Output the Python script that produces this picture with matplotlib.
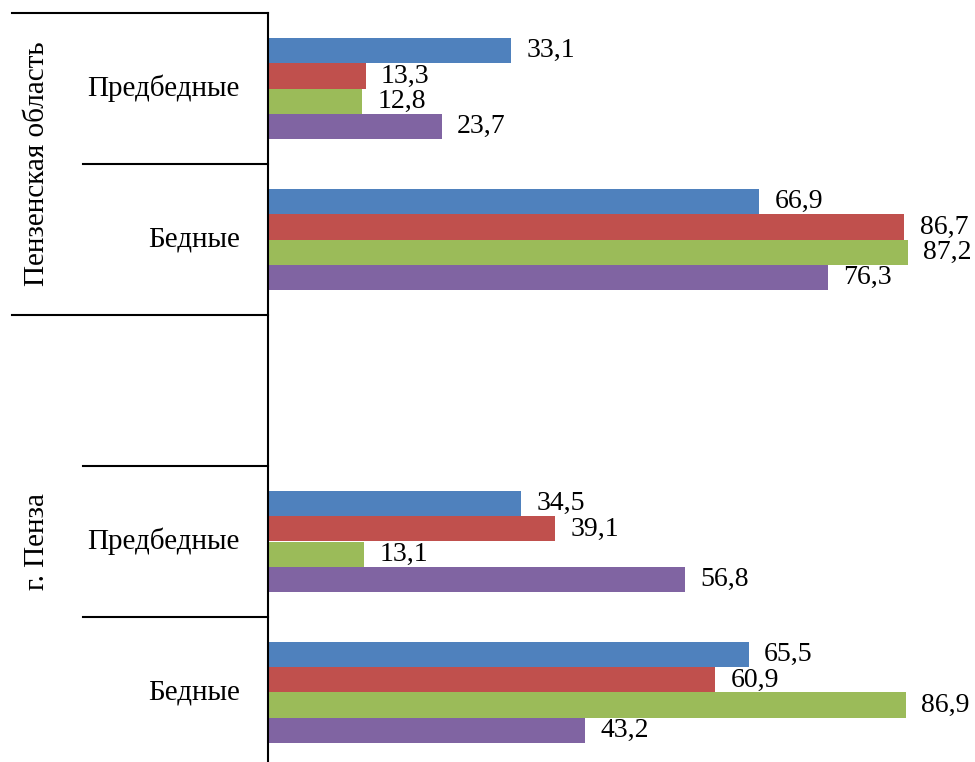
import matplotlib.pyplot as plt
import numpy as np
from matplotlib.transforms import blended_transform_factory

plt.rcParams['font.family'] = ['Liberation Serif', 'DejaVu Serif']

# categories top to bottom (empty slot separates the two groups)
categories = ['Предбедные', 'Бедные', '', 'Предбедные', 'Бедные']
groups = ['Пензенская область', 'г. Пенза']

# four series, one value per category (nan = empty slot)
series_1 = [33.1, 66.9, np.nan, 34.5, 65.5]
series_2 = [13.3, 86.7, np.nan, 39.1, 60.9]
series_3 = [12.8, 87.2, np.nan, 13.1, 86.9]
series_4 = [23.7, 76.3, np.nan, 56.8, 43.2]
all_series = [series_1, series_2, series_3, series_4]

colors = ['#4F81BD', '#C0504D', '#9BBB59', '#8064A2']

W, H = 975, 762
fig = plt.figure(figsize=(W / 100, H / 100), dpi=100)
# axes: value 0 at x=268px, top at y=13px, slots of ~151px
ax = fig.add_axes([268 / W, (H - 768) / H, (W - 268) / W, (768 - 13) / H])

ypos = np.arange(len(categories))
bar_h = 1 / 6
for i, (vals, color) in enumerate(zip(all_series, colors)):
    offs = ypos + (i - 1.5) * bar_h
    ax.barh(offs, vals, height=bar_h, color=color, linewidth=0)
    for y, v in zip(offs, vals):
        if np.isnan(v):
            continue
        ax.annotate(f"{v:.1f}".replace('.', ','), xy=(v, y), xytext=(11, 0),
                    textcoords='offset points', va='center', ha='left',
                    fontsize=20)

ax.set_xlim(0, (W - 268) / 7.34)
ax.set_ylim(len(categories) - 0.5, -0.5)

for s in ['top', 'right', 'bottom']:
    ax.spines[s].set_visible(False)
ax.spines['left'].set_linewidth(1.5)
ax.set_xticks([])
ax.set_yticks([])

# multi-level category axis drawn by hand
tr = blended_transform_factory(fig.transFigure, ax.transData)
group_edges = [-0.5, 1.5, 4.5]
inner_edges = [0.5, 2.5, 3.5]
for y in group_edges:
    ax.plot([12 / W, 268 / W], [y, y], color='black', lw=1.5,
            transform=tr, clip_on=False)
for y in inner_edges:
    ax.plot([83 / W, 268 / W], [y, y], color='black', lw=1.5,
            transform=tr, clip_on=False)

for y, name in zip(ypos, categories):
    if name:
        ax.text(240 / W, y, name, transform=tr, ha='right', va='center',
                fontsize=21)

ax.text(37 / W, 0.5, groups[0], transform=tr, rotation=90,
        ha='center', va='center', fontsize=21)
ax.text(37 / W, 3.0, groups[1], transform=tr, rotation=90,
        ha='center', va='center', fontsize=21)

plt.savefig('out.png', dpi=100)
